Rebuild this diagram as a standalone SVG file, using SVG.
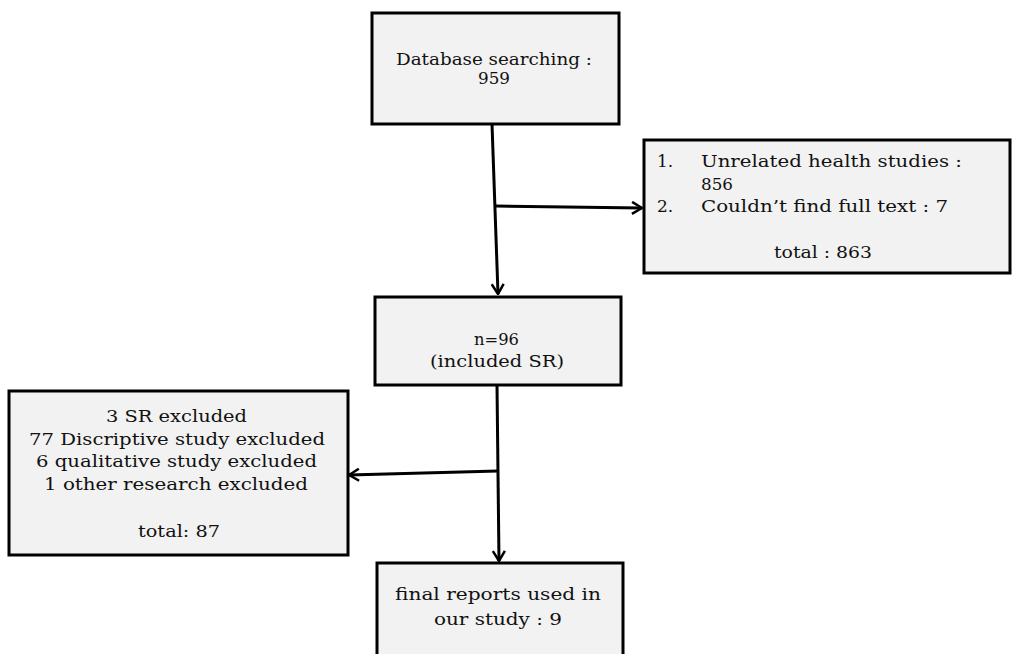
<svg xmlns="http://www.w3.org/2000/svg" width="1012" height="654" viewBox="0 0 1012 654">
<style>
.box{fill:#f2f2f2;stroke:#000;stroke-width:3}
text{font-family:"DejaVu Serif","Liberation Serif",serif;font-size:17px;fill:#111}
.c{text-anchor:middle}
.ln{fill:none;stroke:#000;stroke-width:3}
</style>
<defs>
<marker id="ah" viewBox="0 0 12 14" refX="11" refY="7" markerWidth="12" markerHeight="14" markerUnits="userSpaceOnUse" orient="auto">
<path d="M1,1 L11,7 L1,13" fill="none" stroke="#000" stroke-width="2.5"/>
</marker>
</defs>
<g id="connectors">
<path class="ln" d="M492,124 L498,294" marker-end="url(#ah)"/>
<path class="ln" d="M496,206 L642,208" marker-end="url(#ah)"/>
<path class="ln" d="M497,385 L499,561" marker-end="url(#ah)"/>
<path class="ln" d="M498,471 L349,475" marker-end="url(#ah)"/>
</g>
<g id="n1">
<rect class="box" x="372" y="13" width="247" height="111"/>
<text class="c" x="494" y="65" textLength="196" lengthAdjust="spacingAndGlyphs">Database searching :</text>
<text class="c" x="494" y="84" textLength="32" lengthAdjust="spacingAndGlyphs">959</text>
</g>
<g id="n2">
<rect class="box" x="644" y="140" width="366" height="133"/>
<text x="657" y="167">1.</text>
<text x="701" y="167" textLength="261" lengthAdjust="spacingAndGlyphs">Unrelated health studies :</text>
<text x="701" y="190" textLength="32" lengthAdjust="spacingAndGlyphs">856</text>
<text x="657" y="212">2.</text>
<text x="701" y="212" textLength="247" lengthAdjust="spacingAndGlyphs">Couldn’t find full text : 7</text>
<text class="c" x="823" y="258" textLength="98" lengthAdjust="spacingAndGlyphs">total : 863</text>
</g>
<g id="n3">
<rect class="box" x="375" y="297" width="246" height="88"/>
<text class="c" x="496.5" y="345" textLength="45" lengthAdjust="spacingAndGlyphs">n=96</text>
<text class="c" x="497" y="367" textLength="134" lengthAdjust="spacingAndGlyphs">(included SR)</text>
</g>
<g id="n4">
<rect class="box" x="9" y="391" width="339" height="164"/>
<text class="c" x="176.5" y="422" textLength="141" lengthAdjust="spacingAndGlyphs">3 SR excluded</text>
<text class="c" x="177" y="445" textLength="296" lengthAdjust="spacingAndGlyphs">77 Discriptive study excluded</text>
<text class="c" x="176.5" y="467" textLength="281" lengthAdjust="spacingAndGlyphs">6 qualitative  study excluded</text>
<text class="c" x="176" y="490" textLength="264" lengthAdjust="spacingAndGlyphs">1 other research excluded</text>
<text class="c" x="179" y="537" textLength="82" lengthAdjust="spacingAndGlyphs">total: 87</text>
</g>
<g id="n5">
<rect class="box" x="377" y="563" width="246" height="100"/>
<text class="c" x="498" y="600" textLength="206" lengthAdjust="spacingAndGlyphs">final reports used in</text>
<text class="c" x="498" y="625" textLength="128" lengthAdjust="spacingAndGlyphs">our study : 9</text>
</g>
</svg>
